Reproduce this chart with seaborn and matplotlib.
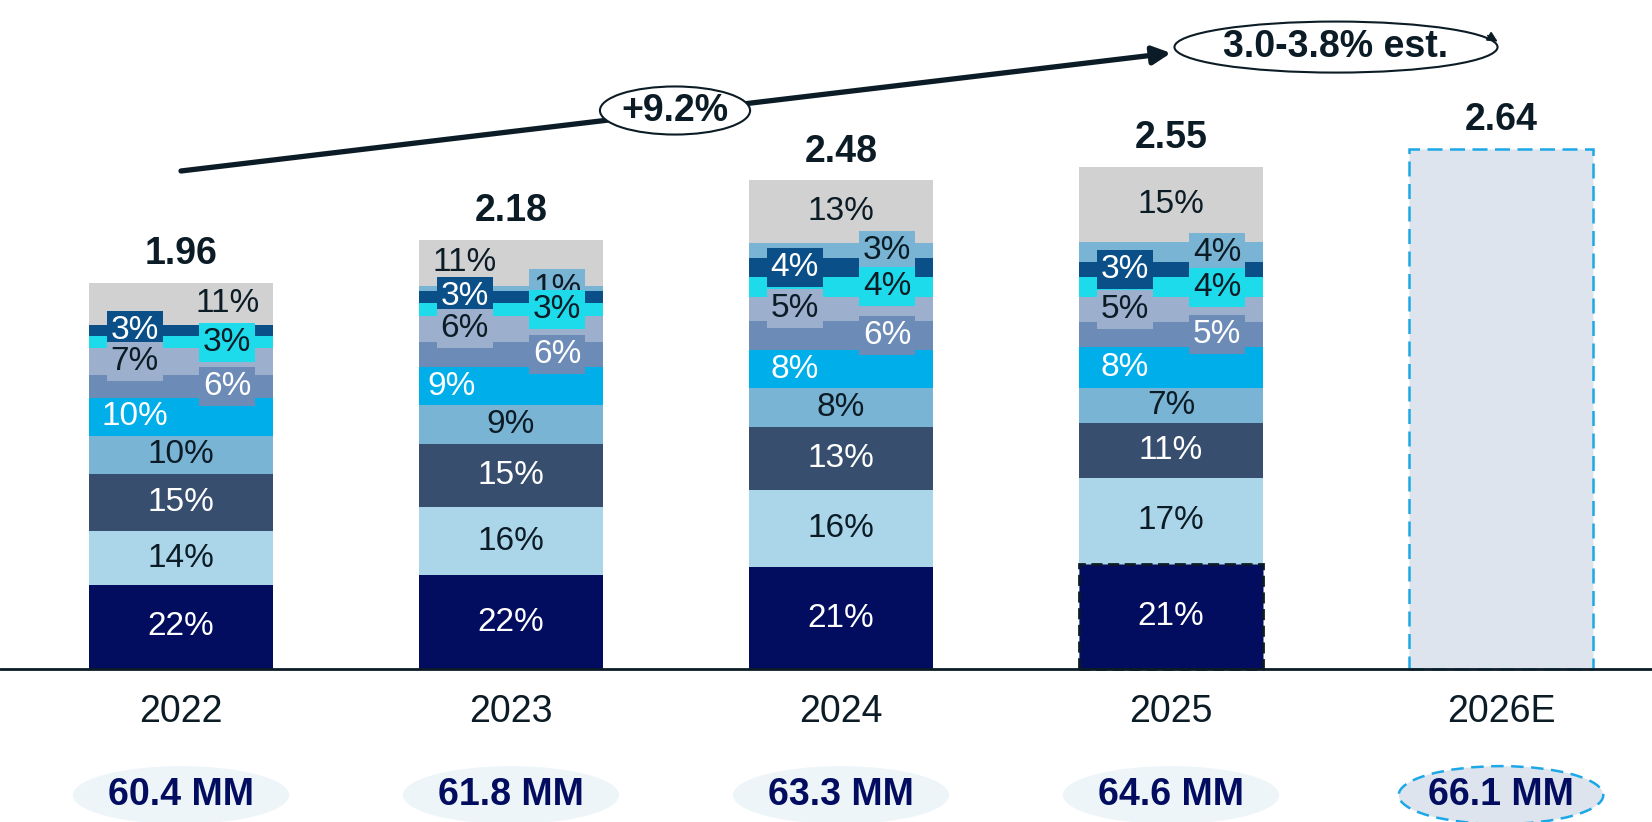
import pandas as pd
import matplotlib.pyplot as plt
import seaborn as sns
from matplotlib.patches import Ellipse

sns.set_theme(style='white')
plt.rcParams['font.family'] = ['Liberation Sans', 'DejaVu Sans']

#############################
#           Data            #
#############################

years = ['2022', '2023', '2024', '2025', '2026E']
totals = [1.96, 2.18, 2.48, 2.55, 2.64]
members = ['60.4 MM', '61.8 MM', '63.3 MM', '64.6 MM', '66.1 MM']

# Segment shares (%), bottom to top, for the actual years.
shares_2022 = [22, 14, 15, 10, 10, 6, 7, 3, 3, 0, 11]
shares_2023 = [22, 16, 15, 9, 9, 6, 6, 3, 3, 1, 11]
shares_2024 = [21, 16, 13, 8, 8, 6, 5, 4, 4, 3, 13]
shares_2025 = [21, 17, 11, 7, 8, 5, 5, 4, 3, 4, 15]
shares = [shares_2022, shares_2023, shares_2024, shares_2025]

growth_past = '+9.2%'
growth_est = '3.0-3.8% est.'

# Styling.
seg_colors = ['#020D5F', '#ABD5E8', '#374E6E', '#7AB4D4', '#00AEEA', '#6C8BB7',
              '#9CAFCD', '#1EDBEC', '#0B4F88', '#7AB4D4', '#D1D1D1']
white_text = [0, 2, 4, 5, 8]
boxed = [5, 6, 7, 8, 9]
side = ['C', 'C', 'C', 'C', 'L', 'R', 'L', 'R', 'L', 'R', None]
gray_side = ['R', 'L', 'C', 'C']
side_dx = {'L': -0.14, 'R': 0.14, 'C': 0.0}
dark = '#0C1C26'
navy = '#020D5F'
est_fill = '#DDE4EE'
est_edge = '#1CA8E6'
bar_w = 0.555

# Long table with cumulative tops for the stacking.
rows = []
for i, s in enumerate(shares):
    total_pct = sum(s)
    bottom = 0.0
    for k, v in enumerate(s):
        h = v / total_pct * totals[i]
        rows.append({'year': years[i], 'seg': k, 'share': v,
                     'bottom': bottom, 'top': bottom + h})
        bottom += h
df = pd.DataFrame(rows)

#############################
#           Plot            #
#############################

fig = plt.figure(figsize=(16.52, 8.22), dpi=100)
ax = fig.add_axes([0, 0, 1, 1])

# Stacked bars: draw cumulative tops from the top segment down.
for k in range(len(seg_colors) - 1, -1, -1):
    sub = df[df['seg'] == k]
    sns.barplot(data=sub, x='year', y='top', order=years, color=seg_colors[k],
                saturation=1, width=bar_w, errorbar=None, linewidth=0, ax=ax)
    if k == 0:
        # 2025 base segment has a dashed outline
        p = ax.containers[-1].patches[3]
        p.set_edgecolor(dark)
        p.set_linestyle((0, (4, 2)))
        p.set_linewidth(2)

# Estimated year: total only.
sns.barplot(x=[years[4]], y=[totals[4]], order=years, color=est_fill, saturation=1,
            width=bar_w, errorbar=None, edgecolor=est_edge, linewidth=1.8,
            linestyle=(0, (6, 3)), ax=ax)

# Segment labels, top segments first so lower boxes sit above.
for _, r in df.sort_values('seg', ascending=False).iterrows():
    k = r['seg']
    if r['share'] == 0:
        continue
    i = years.index(r['year'])
    sd = side[k] if side[k] else gray_side[i]
    dx = side_dx[sd]
    if k == 4 and i == 1:
        dx = -0.18  # this one sits further left in the source
    y = (r['bottom'] + r['top']) / 2
    bbox = None
    if k in boxed:
        bbox = dict(boxstyle='square,pad=0.12', fc=seg_colors[k], ec='none')
    ax.text(i + dx, y, f"{r['share']}%", ha='center', va='center',
            fontsize=24, color='white' if k in white_text else dark,
            bbox=bbox, zorder=20 - k)

# Totals on top.
for i, t in enumerate(totals):
    ax.text(i, t + 0.055, f'{t:.2f}', ha='center', va='bottom', fontsize=27,
            fontweight='bold', color=dark, zorder=30)

# Baseline and year labels.
ax.axhline(0, color=dark, lw=2, zorder=25)
for i, y in enumerate(years):
    ax.text(i, -0.218, y, ha='center', va='center', fontsize=27, color=dark)

# Member ovals.
for i, m in enumerate(members):
    if i < 4:
        e = Ellipse((i, -0.64), 0.655, 0.294, fc='#EDF5F9', ec='none', clip_on=False)
    else:
        e = Ellipse((i, -0.64), 0.62, 0.294, fc=est_fill, ec=est_edge, lw=1.8,
                    ls=(0, (5, 3)), clip_on=False)
    ax.add_patch(e)
    ax.text(i, -0.64, m, ha='center', va='center', fontsize=27,
            fontweight='bold', color=navy)

# Growth arrow.
ax.annotate('', xy=(3.0, 3.127), xytext=(0, 2.528),
            arrowprops=dict(arrowstyle='-|>,head_length=0.9,head_width=0.45',
                            lw=3.8, color=dark, shrinkA=0, shrinkB=0), zorder=40)
ax.add_patch(Ellipse((1.497, 2.835), 0.455, 0.244, fc='white', ec=dark, lw=1.5, zorder=41))
ax.text(1.497, 2.835, growth_past, ha='center', va='center', fontsize=27,
        fontweight='bold', color=dark, zorder=42)
ax.add_patch(Ellipse((3.5, 3.157), 0.979, 0.259, fc='white', ec=dark, lw=1.5, zorder=41))
ax.text(3.5, 3.157, growth_est, ha='center', va='center', fontsize=27,
        fontweight='bold', color=dark, zorder=42)
ax.annotate('', xy=(3.99, 3.185), xytext=(3.96, 3.215),
            arrowprops=dict(arrowstyle='-|>,head_length=0.5,head_width=0.25',
                            lw=1.2, color=dark, shrinkA=0, shrinkB=0), zorder=43)

ax.set_xlim(-181 / 330, (1652 - 181) / 330)
ax.set_ylim(-153 / 197, 669 / 197)
ax.axis('off')

plt.savefig('out.png', dpi=100)
